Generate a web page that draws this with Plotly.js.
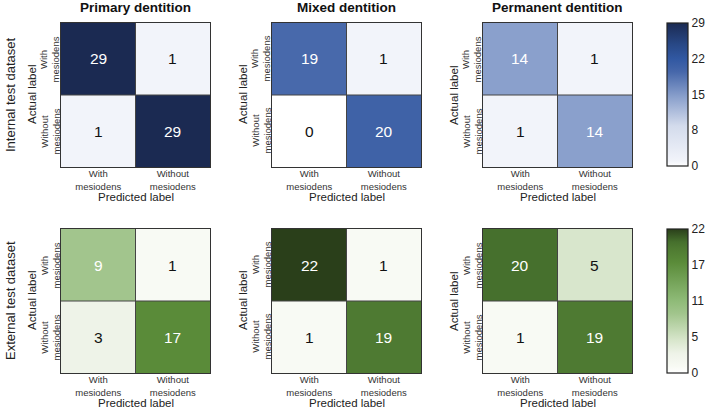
<!DOCTYPE html>
<html><head><meta charset="utf-8">
<script src="https://cdn.plot.ly/plotly-3.0.1.min.js"></script>
<style>html,body{margin:0;padding:0;background:#fff}#chart{width:708px;height:409px}</style>
</head><body><div id="chart"></div>
<script>
const labels = ['With<br>mesiodens', 'Without<br>mesiodens'];
const columnTitles = ['Primary dentition', 'Mixed dentition', 'Permanent dentition'];
const rowTitles = ['Internal test dataset', 'External test dataset'];
const xTitle = 'Predicted label';
const yTitle = 'Actual label';
const internalPrimary = [[29, 1], [1, 29]];
const internalMixed = [[19, 1], [0, 20]];
const internalPermanent = [[14, 1], [1, 14]];
const externalPrimary = [[9, 1], [3, 17]];
const externalMixed = [[22, 1], [1, 19]];
const externalPermanent = [[20, 5], [1, 19]];
const blueTicks = [0, 7.25, 14.5, 21.75, 29];
const blueTickText = ['0', '8', '15', '22', '29'];
const greenTicks = [0, 5.5, 11, 16.5, 22];
const greenTickText = ['0', '5', '11', '17', '22'];

const matrices = [
  [internalPrimary, internalMixed, internalPermanent],
  [externalPrimary, externalMixed, externalPermanent]
];
const maxes = [29, 22];

const FONT = 'Liberation Sans, Arial, sans-serif';
const xDomains = [[61/708, 210/708], [272/708, 421/708], [483/708, 632/708]];
const yDomains = [[1 - 167/409, 1 - 23/409], [1 - 373/409, 1 - 229/409]];

const blueScale = [
  [0, '#ffffff'], [0.034, '#f2f4fa'], [0.28, '#d3dbec'], [0.483, '#8aa0cc'],
  [0.66, '#4667aa'], [0.75, '#3158a2'], [0.85, '#284886'], [1, '#1b2a52']
];
const greenScale = [
  [0, '#ffffff'], [0.045, '#f8faf4'], [0.136, '#eef3e8'], [0.227, '#d8e6cc'],
  [0.41, '#a2c58d'], [0.5, '#8fbb78'], [0.77, '#5a8b39'], [0.86, '#4f7b32'],
  [0.91, '#46702d'], [1, '#2a3f1a']
];

const data = [];
const layout = {
  width: 708, height: 409,
  margin: {l: 0, r: 0, t: 0, b: 0},
  paper_bgcolor: '#fff', plot_bgcolor: '#fff',
  font: {family: FONT, color: '#222'},
  showlegend: false,
  annotations: [], shapes: [],
  coloraxis: {
    cmin: 0, cmax: 29, colorscale: blueScale,
    colorbar: {
      x: 667/708, xanchor: 'left', xref: 'paper', y: 1 - 23/409, yanchor: 'top',
      len: 143/409, lenmode: 'fraction', thickness: 21, thicknessmode: 'pixels',
      outlinewidth: 1.2, outlinecolor: '#222', tickvals: blueTicks, ticktext: blueTickText,
      ticks: '', tickfont: {size: 12, family: FONT, color: '#222'}, xpad: 0, ypad: 0
    }
  },
  coloraxis2: {
    cmin: 0, cmax: 22, colorscale: greenScale,
    colorbar: {
      x: 667/708, xanchor: 'left', xref: 'paper', y: 1 - 229/409, yanchor: 'top',
      len: 144/409, lenmode: 'fraction', thickness: 21, thicknessmode: 'pixels',
      outlinewidth: 1.2, outlinecolor: '#222', tickvals: greenTicks, ticktext: greenTickText,
      ticks: '', tickfont: {size: 12, family: FONT, color: '#222'}, xpad: 0, ypad: 0
    }
  }
};

let idx = 0;
for (let r = 0; r < 2; r++) {
  for (let c = 0; c < 3; c++) {
    idx++;
    const xa = 'x' + (idx === 1 ? '' : idx);
    const ya = 'y' + (idx === 1 ? '' : idx);
    const z = matrices[r][c];
    data.push({
      type: 'heatmap', z: z, x: [0, 1], y: [0, 1],
      xaxis: xa, yaxis: ya,
      coloraxis: r === 0 ? 'coloraxis' : 'coloraxis2',
      hoverinfo: 'skip'
    });
    const xk = 'xaxis' + (idx === 1 ? '' : idx);
    const yk = 'yaxis' + (idx === 1 ? '' : idx);
    layout[xk] = {
      domain: xDomains[c], anchor: ya, range: [-0.5, 1.5],
      tickvals: [0, 1], ticktext: labels, ticks: '', showgrid: false, zeroline: false,
      showline: true, mirror: true, linecolor: '#333', linewidth: 1,
      tickfont: {size: 9.5, family: FONT, color: '#333'},
      ticklabelstandoff: -2,
      fixedrange: true
    };
    layout[yk] = {
      domain: yDomains[r], anchor: xa, range: [1.5, -0.5],
      tickvals: [0, 1], showticklabels: false, ticks: '', showgrid: false, zeroline: false,
      showline: true, mirror: true, linecolor: '#333', linewidth: 1,
      fixedrange: true
    };
    layout.shapes.push({type: 'line', xref: xa, yref: ya, x0: 0.5, x1: 0.5, y0: -0.5, y1: 1.5, line: {color: '#444', width: 1}});
    layout.shapes.push({type: 'line', xref: xa, yref: ya, x0: -0.5, x1: 1.5, y0: 0.5, y1: 0.5, line: {color: '#444', width: 1}});
    for (let i = 0; i < 2; i++) {
      layout.annotations.push({
        xref: 'paper', yref: ya, x: xDomains[c][0] - 11.5/708, y: i,
        xanchor: 'center', yanchor: 'middle', textangle: -90, text: labels[i], showarrow: false,
        font: {size: 9.5, family: FONT, color: '#333'}
      });
      for (let j = 0; j < 2; j++) {
        const v = z[i][j];
        layout.annotations.push({
          xref: xa, yref: ya, x: j, y: i, text: String(v), showarrow: false,
          xanchor: 'center', yanchor: 'middle',
          font: {size: 15.5, family: FONT, color: v / maxes[r] > 0.3 ? '#ffffff' : '#111111'}
        });
      }
    }
    const xc = (xDomains[c][0] + xDomains[c][1]) / 2;
    const yc = (yDomains[r][0] + yDomains[r][1]) / 2;
    layout.annotations.push({
      xref: 'paper', yref: 'paper', x: xc, y: yDomains[r][0] - 30/409,
      xanchor: 'center', yanchor: 'middle', text: xTitle, showarrow: false,
      font: {size: 11.5, family: FONT, color: '#222'}
    });
    layout.annotations.push({
      xref: 'paper', yref: 'paper', x: xDomains[c][0] - 29/708, y: yc,
      xanchor: 'center', yanchor: 'middle', textangle: -90, text: yTitle, showarrow: false,
      font: {size: 11.5, family: FONT, color: '#222'}
    });
    if (r === 0) {
      layout.annotations.push({
        xref: 'paper', yref: 'paper', x: xc, y: 1 - 8/409,
        xanchor: 'center', yanchor: 'middle', text: '<b>' + columnTitles[c] + '</b>', showarrow: false,
        font: {size: 13.5, family: FONT, color: '#111'}
      });
    }
  }
  layout.annotations.push({
    xref: 'paper', yref: 'paper', x: 10/708, y: (yDomains[r][0] + yDomains[r][1]) / 2,
    xanchor: 'center', yanchor: 'middle', textangle: -90, text: rowTitles[r], showarrow: false,
    font: {size: 13, family: FONT, color: '#222'}
  });
}

Plotly.newPlot('chart', data, layout, {staticPlot: true, displayModeBar: false});
</script></body></html>
